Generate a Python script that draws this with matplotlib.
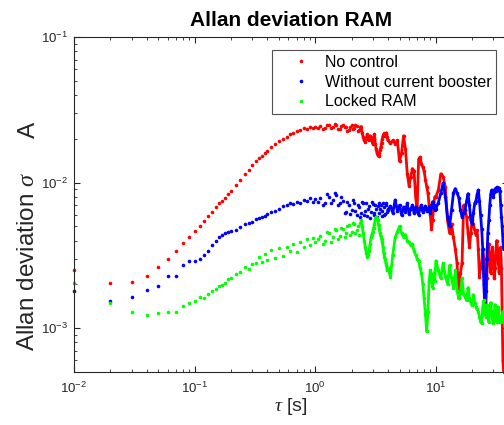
import numpy as np
import matplotlib
matplotlib.use("Agg")
import matplotlib.pyplot as plt

plt.rcParams['font.family'] = ['Liberation Sans', 'DejaVu Sans']
plt.rcParams['mathtext.fontset'] = 'custom'
plt.rcParams['mathtext.rm'] = 'Liberation Sans'
plt.rcParams['mathtext.it'] = 'Liberation Serif:italic'
plt.rcParams['mathtext.bf'] = 'Liberation Sans:bold'

# averaging time tau [s]
tau = [0.01, 0.02, 0.03, 0.04, 0.05, 0.06, 0.07, 0.08, 0.09, 0.10,
       0.11, 0.12, 0.13, 0.14, 0.15, 0.16, 0.17, 0.18, 0.19, 0.20,
       0.22, 0.24, 0.26, 0.28, 0.30, 0.32, 0.34, 0.36, 0.38, 0.40,
       0.43, 0.46, 0.50, 0.54, 0.58, 0.62, 0.66, 0.70, 0.75, 0.80, 0.85, 0.90, 0.95, 1.0,
       1.05, 1.1, 1.15, 1.2, 1.25, 1.3, 1.35, 1.4, 1.45, 1.5,
       1.55, 1.6, 1.65, 1.7, 1.75, 1.8, 1.85, 1.9, 1.95, 2.0,
       2.05, 2.1, 2.15, 2.2, 2.25, 2.3, 2.35, 2.4, 2.45, 2.5,
       2.55, 2.6, 2.65, 2.7, 2.75, 2.8, 2.85, 2.9, 2.95, 3.0,
       3.05, 3.1, 3.15, 3.2, 3.25, 3.3, 3.35, 3.4, 3.45, 3.5,
       3.55, 3.6, 3.65, 3.7, 3.75, 3.8, 3.85, 3.9, 3.95, 4.0,
       4.2, 4.4, 4.6, 4.8, 5.0, 5.2, 5.4, 5.6, 5.8, 6.0,
       6.2, 6.4, 6.6, 6.8, 7.0, 7.2, 7.4, 7.6, 7.8, 8.0,
       8.2, 8.4, 8.6, 8.8, 9.0, 9.2, 9.4, 9.6, 9.8, 10.0,
       10.5, 11.0, 11.5, 12.0, 12.5, 13.0, 13.5, 14.0, 14.5, 15.0,
       15.5, 16.0, 16.5, 17.0, 17.5, 18.0, 18.5, 19.0, 19.5, 20.0,
       20.5, 21.0, 21.5, 22.0, 22.5, 23.0, 23.5, 24.0, 24.5, 25.0,
       25.5, 26.0, 26.5, 27.0, 27.5, 28.0, 28.5, 29.0, 29.5, 30.0,
       30.5, 31.0, 31.5, 32.0, 32.5, 33.0, 33.5, 34.0, 34.5, 35.0,
       35.5, 36.0, 36.5]

# Allan deviation, in units of 1e-3
no_control = [2.53, 2.03, 2.07, 2.30, 2.62, 2.99, 3.40, 3.82, 4.21, 4.67,
              5.05, 5.46, 5.89, 6.30, 6.79, 7.19, 7.50, 7.90, 8.35, 8.80,
              9.6, 10.5, 11.4, 12.3, 13.2, 14.0, 14.7, 15.3, 16.0, 16.6,
              17.5, 18.3, 19.2, 20.0, 20.7, 21.5, 22.0, 22.6, 22.9, 23.6, 23.4, 24.3, 23.9, 24.2,
              23.6, 24.5, 23.2, 23.8, 24.9, 25.0, 23.9, 24.0, 25.3, 24.8,
              23.4, 23.5, 24.6, 25.0, 24.1, 24.2, 22.8, 23.0, 24.0, 24.7,
              23.2, 23.8, 24.9, 24.5, 22.5, 23.0, 24.0, 24.2, 22.0, 20.5,
              19.5, 19.0, 20.2, 21.5, 20.0, 19.5, 21.0, 20.5, 19.5, 18.5,
              20.0, 21.5, 18.5, 17.0, 16.0, 15.5, 15.2, 16.0, 16.8, 17.5,
              18.8, 20.0, 21.0, 21.5, 21.8, 21.0, 21.5, 22.0, 20.5, 19.5,
              18.6, 19.5, 18.5, 19.5, 14.0, 16.0, 21.0, 17.0, 11.5, 9.5,
              11.0, 12.5, 12.0, 8.0, 6.5, 14.5, 15.0, 13.5, 12.8, 12.0,
              10.5, 9.4, 8.5, 7.0, 6.0, 4.8, 5.5, 7.0, 8.0, 8.0,
              8.9, 11.5, 11.0, 9.3, 5.5, 4.5, 5.2, 4.2, 3.5, 2.8,
              1.6, 2.4, 2.8, 7.0, 6.5, 5.8, 4.5, 3.6, 4.5, 5.5,
              5.2, 4.7, 4.4, 4.7, 3.5, 2.25, 2.6, 2.8, 3.5, 3.0,
              2.0, 1.4, 2.2, 3.2, 3.8, 3.0, 2.4, 3.0, 3.6, 2.8,
              2.2, 2.6, 3.4, 4.0, 3.5, 2.8, 2.4, 3.0, 3.6, 2.6,
              1.2, 0.6, 0.5]

without_booster = [1.79, 1.53, 1.65, 1.82, 1.96, 2.27, 2.27, 2.70, 2.90, 2.90,
                   2.98, 3.18, 3.37, 3.75, 4.00, 4.20, 4.35, 4.50, 4.55, 4.65,
                   4.75, 4.95, 5.20, 5.25, 5.40, 5.60, 5.70, 5.85, 5.90, 6.10,
                   6.30, 6.40, 6.60, 6.90, 7.00, 7.20, 7.10, 7.40, 7.30, 7.60, 7.50, 7.80, 7.40, 7.70,
                   7.4, 7.9, 7.0, 7.3, 8.3, 8.0, 7.2, 7.6, 8.5, 8.2,
                   7.0, 7.2, 8.0, 7.5, 6.2, 6.3, 7.4, 7.0, 6.1, 6.5,
                   7.6, 7.3, 6.4, 6.0, 7.0, 6.8, 5.8, 6.2, 7.4, 7.2,
                   6.0, 6.4, 7.3, 5.9, 6.6, 6.9, 5.7, 6.3, 7.4, 7.1,
                   6.2, 6.0, 7.0, 6.6, 5.8, 6.9, 7.3, 6.2, 6.6, 7.0,
                   5.9, 6.4, 7.2, 6.8, 6.0, 6.1, 7.0, 7.2, 6.3, 6.5,
                   6.9, 6.2, 7.6, 6.4, 7.0, 6.0, 6.8, 6.3, 7.2, 6.1,
                   6.6, 7.0, 6.2, 6.8, 6.4, 6.0, 6.7, 7.0, 6.3, 6.6,
                   6.9, 6.4, 6.5, 6.8, 6.2, 6.8, 7.4, 7.0, 6.5, 6.6,
                   7.3, 8.5, 9.9, 8.0, 5.8, 5.0, 6.5, 8.5, 9.1, 8.5,
                   7.9, 6.5, 5.8, 6.2, 6.5, 7.5, 8.4, 7.0, 5.5, 5.2,
                   6.2, 7.2, 7.5, 8.3, 8.9, 7.5, 6.0, 4.8, 3.5, 2.0,
                   1.4, 1.8, 3.0, 4.5, 5.5, 7.0, 8.3, 8.9, 8.5, 8.0,
                   8.6, 9.1, 8.8, 9.3, 9.0, 8.9, 9.2, 8.8, 7.0, 5.8,
                   5.0, 4.0, 3.5]

locked_ram = [2.05, 1.50, 1.30, 1.23, 1.27, 1.29, 1.30, 1.41, 1.49, 1.54,
              1.64, 1.60, 1.72, 1.80, 1.85, 1.95, 1.98, 2.05, 2.18, 2.22,
              2.35, 2.45, 2.62, 2.55, 2.75, 2.80, 3.10, 2.85, 3.25, 2.95,
              3.45, 3.05, 3.55, 3.15, 3.60, 3.40, 3.80, 3.35, 3.90, 3.60, 4.10, 3.75, 4.15, 3.90,
              4.1, 4.3, 3.8, 4.0, 4.6, 4.5, 3.9, 4.2, 4.8, 4.7,
              4.1, 4.3, 4.9, 4.8, 4.2, 4.5, 5.0, 5.1, 4.4, 4.6,
              5.3, 5.2, 4.5, 4.7, 5.0, 4.4, 5.3, 5.5, 5.0, 4.5,
              4.0, 3.6, 3.3, 3.1, 3.2, 3.4, 3.8, 4.2, 4.4, 4.6,
              4.9, 5.2, 5.6, 5.8, 5.7, 5.5, 5.1, 4.8, 4.5, 4.3,
              4.1, 3.9, 3.6, 3.3, 3.1, 3.0, 2.8, 2.7, 2.5, 2.6,
              2.25, 3.2, 4.2, 4.6, 5.0, 4.5, 4.2, 4.4, 4.0, 3.9,
              3.7, 3.8, 3.4, 3.2, 3.0, 2.9, 2.6, 2.4, 2.0, 1.6,
              1.25, 0.95, 1.3, 2.1, 2.5, 2.2, 1.9, 2.4, 2.1, 2.9,
              2.5, 2.2, 2.8, 2.3, 2.0, 2.7, 2.2, 1.9, 2.5, 1.8,
              1.6, 1.75, 2.2, 1.7, 1.65, 1.55, 1.9, 1.6, 1.5, 1.45,
              1.7, 1.5, 1.4, 1.35, 1.3, 1.2, 1.1, 1.08, 1.4, 1.55,
              1.3, 1.2, 1.45, 1.2, 1.1, 1.3, 1.5, 1.3, 1.15, 1.08,
              1.3, 1.45, 1.2, 1.1, 1.35, 1.4, 1.2, 1.1, 1.2, 1.1,
              1.15, 1.3, 1.2]

labels = ["No control", "Without current booster", "Locked RAM"]
colors = ['#ff0000', '#0000ff', '#00ff00']
dense_from = [2.4, 4.0, 2.4]  # beyond this tau the points merge into a line


def main():
    fig = plt.figure(figsize=(5.04, 4.25), dpi=100)
    ax = fig.add_axes([0.1468, 0.1247, 0.862, 0.788])

    t = np.array(tau)
    for vals, name, c, d in zip([no_control, without_booster, locked_ram], labels, colors, dense_from):
        v = np.array(vals) * 1e-3
        ax.plot(t, v, 'o', ms=2.6, mew=0, color=c, label=name, clip_on=False)
        m = t >= d
        ax.plot(t[m], v[m], '-', lw=2.0, color=c)

    ax.set_xscale('log')
    ax.set_yscale('log')
    ax.set_xlim(0.01, 40)
    ax.set_ylim(5e-4, 1e-1)

    gray = '#262626'
    for s in ax.spines.values():
        s.set_color(gray)
        s.set_linewidth(0.8)
    ax.tick_params(which='both', direction='in', top=True, right=True, colors=gray, labelsize=9.5)
    ax.tick_params(which='major', length=4)
    ax.tick_params(which='minor', length=2.2)
    ax.tick_params(axis='x', pad=6)
    ax.tick_params(axis='y', pad=4)

    ax.set_title("Allan deviation RAM", fontsize=15, fontweight='bold', pad=8)
    ax.set_xlabel(r"$\tau$ [s]", fontsize=14, color=gray)
    ax.xaxis.set_label_coords(0.5, -0.072)
    # sigma with its subscript A set a bit apart, as in the original
    ax.set_ylabel(r"Allan deviation $\sigma$", fontsize=17.5, color=gray)
    ax.yaxis.set_label_coords(-0.0806, 0.330)
    fig.text(40 / 504, (425 - 129.5) / 425, "A", rotation=90, fontsize=17.5,
             color=gray, ha='right', va='center')

    leg = ax.legend(loc='upper right', bbox_to_anchor=(496 / 504, 375 / 425),
                    bbox_transform=fig.transFigure, fontsize=11.5, frameon=True,
                    fancybox=False, borderpad=0.3, handlelength=3.0, handletextpad=0.0,
                    labelspacing=0.3, borderaxespad=0, markerscale=1.0)
    leg.get_frame().set_edgecolor(gray)
    leg.get_frame().set_linewidth(0.8)

    fig.savefig("out.png", dpi=100)


if __name__ == "__main__":
    main()
